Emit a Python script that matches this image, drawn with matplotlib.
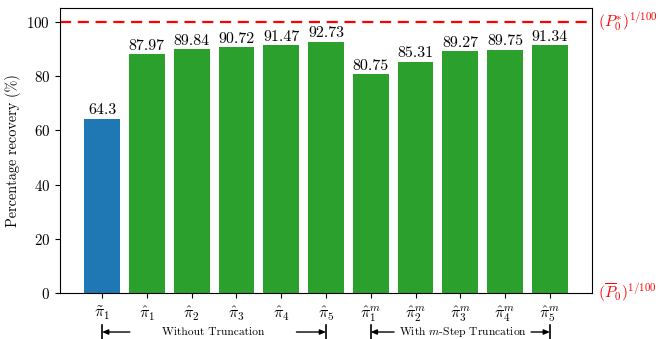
import matplotlib
matplotlib.use("Agg")
import matplotlib.pyplot as plt
from matplotlib.transforms import blended_transform_factory

plt.rcParams["font.family"] = "serif"
plt.rcParams["font.serif"] = ["cmr10"]
plt.rcParams["mathtext.fontset"] = "cm"
plt.rcParams["axes.formatter.use_mathtext"] = True
plt.rcParams["axes.unicode_minus"] = False

labels = [r"$\tilde{\pi}_1$", r"$\hat{\pi}_1$", r"$\hat{\pi}_2$", r"$\hat{\pi}_3$",
          r"$\hat{\pi}_4$", r"$\hat{\pi}_5$", r"$\hat{\pi}_1^m$", r"$\hat{\pi}_2^m$",
          r"$\hat{\pi}_3^m$", r"$\hat{\pi}_4^m$", r"$\hat{\pi}_5^m$"]
values = [64.3, 87.97, 89.84, 90.72, 91.47, 92.73, 80.75, 85.31, 89.27, 89.75, 91.34]
colors = ["#1f77b4"] + ["#2ca02c"] * 10
upper_ref = 100

fig = plt.figure(figsize=(6.6, 3.39), dpi=100)
ax = fig.add_axes([0.0909, 0.1357, 0.806, 0.840])

x = list(range(len(values)))
bars = ax.bar(x, values, color=colors, width=0.8)
ax.bar_label(bars, labels=[f"{v:g}" for v in values], padding=1, fontsize=11.5)
ax.axhline(upper_ref, color="red", linestyle=(0, (5, 3)), linewidth=1.6)

ax.set_xticks(x)
ax.set_xticklabels(labels, fontsize=11.5)
ax.tick_params(axis="x", pad=5)
ax.set_ylim(0, 105)
ax.set_yticks([0, 20, 40, 60, 80, 100])
ax.tick_params(axis="y", labelsize=10.8)
ax.set_ylabel("Percentage recovery (%)", fontsize=10.3)

# reference levels on the right side
trans_r = blended_transform_factory(ax.transAxes, ax.transData)
ax.text(1.012, upper_ref, r"$(P_0^{*})^{1/100}$", color="red", fontsize=11.2,
        transform=trans_r, va="center", ha="left", clip_on=False)
ax.text(1.012, 0, r"$(\overline{P}_0)^{1/100}$", color="red", fontsize=11.2,
        transform=trans_r, va="center", ha="left", clip_on=False)

# group brackets under the tick labels
trans_b = blended_transform_factory(ax.transData, ax.transAxes)
yb = -0.137
arrow_kw = dict(arrowstyle="-|>,head_length=0.35,head_width=0.15", color="black", lw=1.0,
                shrinkA=0, shrinkB=0)

def group(x0, x1, g0, g1, text):
    ax.annotate("", xy=(x0, yb), xytext=(g0, yb), xycoords=trans_b, textcoords=trans_b,
                arrowprops=arrow_kw, annotation_clip=False)
    ax.annotate("", xy=(x1, yb), xytext=(g1, yb), xycoords=trans_b, textcoords=trans_b,
                arrowprops=arrow_kw, annotation_clip=False)
    for xv in (x0, x1):
        ax.plot([xv, xv], [yb - 0.025, yb + 0.025], color="black", lw=1.2,
                transform=trans_b, clip_on=False)
    ax.text((g0 + g1) / 2, yb, text, transform=trans_b, ha="center", va="center", fontsize=8.3)

group(0, 5, 0.62, 4.34, "Without Truncation")
group(6, 10, 6.52, 9.58, r"With $m$-Step Truncation")

fig.savefig("out.png", dpi=100)
